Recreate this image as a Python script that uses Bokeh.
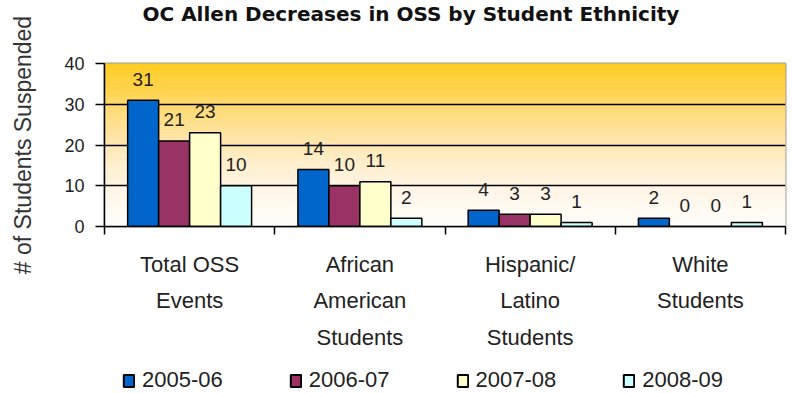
from bokeh.plotting import figure
from bokeh.layouts import column
from bokeh.models import Range1d, FixedTicker, Legend, LegendItem, ColumnDataSource, Title
from bokeh.core.properties import value
from bokeh.embed import file_html
from bokeh.resources import INLINE

# ---- data ----
categories = ["Total OSS\nEvents", "African\nAmerican\nStudents",
              "Hispanic/\nLatino\nStudents", "White\nStudents"]
years = ["2005-06", "2006-07", "2007-08", "2008-09"]
v_2005_06 = [31, 14, 4, 2]
v_2006_07 = [21, 10, 3, 0]
v_2007_08 = [23, 11, 3, 0]
v_2008_09 = [10, 2, 1, 1]
series = [v_2005_06, v_2006_07, v_2007_08, v_2008_09]
y_ticks = [0, 10, 20, 30, 40]
title_text = "OC Allen Decreases in OSS by Student Ethnicity"
y_label = "# of Students Suspended"

# ---- style ----
colors = ["#0066CC", "#993366", "#FFFFCC", "#CCFFFF"]
FONT = "Liberation Sans"
WFONT = "DejaVu Sans"
bar_w = 0.182
offsets = [-1.5 * bar_w, -0.5 * bar_w, 0.5 * bar_w, 1.5 * bar_w]
W = 792
LEG_H = 32
MAIN_H = 393 - LEG_H

n = len(categories)
p = figure(width=W, height=MAIN_H, output_backend="svg", toolbar_location=None,
           x_range=Range1d(0, n), y_range=Range1d(y_ticks[0], y_ticks[-1]),
           min_border_left=104, min_border_right=7, min_border_top=63,
           min_border_bottom=MAIN_H - 226)
p.background_fill_color = "white"
p.border_fill_color = "white"
p.outline_line_color = "#A0A0A0"
p.outline_line_width = 2

# spacer between title and frame (nearest the frame)
p.add_layout(Title(text=" ", text_font_size="10px", standoff=23), "above")

# title (outermost)
p.title.text = title_text
p.title.align = "left"
p.title.vertical_align = "top"
p.title.text_font = WFONT
p.title.text_font_size = "20px"
p.title.text_font_style = "bold"
p.title.text_color = "#111111"
p.title.standoff = 0
p.title.offset = 38

# gradient background (style only)
stops = [(0.0, (255, 254, 252)), (0.25, (255, 245, 228)), (0.5, (255, 232, 180)),
         (0.75, (255, 216, 105)), (1.0, (255, 204, 26))]
def grad(t):
    for (t0, c0), (t1, c1) in zip(stops[:-1], stops[1:]):
        if t <= t1:
            f = (t - t0) / (t1 - t0)
            return "#%02x%02x%02x" % tuple(int(round(a + (b - a) * f)) for a, b in zip(c0, c1))
    return "#%02x%02x%02x" % stops[-1][1]
N = 80
ymin, ymax = y_ticks[0], y_ticks[-1]
bots = [ymin + (ymax - ymin) * i / N for i in range(N)]
tops = [ymin + (ymax - ymin) * (i + 1) / N for i in range(N)]
gcols = [grad((i + 0.5) / N) for i in range(N)]
g = p.quad(left=0, right=n, bottom=bots, top=tops, fill_color=gcols, line_color=gcols, line_width=0.5)
g.level = "image"

# bars
for k, vals in enumerate(series):
    xs = [i + 0.5 + offsets[k] for i in range(n)]
    src = ColumnDataSource(dict(x=xs, top=vals, lab=[str(v) for v in vals]))
    p.vbar(x="x", top="top", bottom=0, width=bar_w, source=src,
           fill_color=colors[k], line_color="black", line_width=1.5)
    p.text(x="x", y="top", text="lab", source=src, y_offset=-21,
           text_align="center", text_baseline="middle",
           text_font=value(FONT), text_font_size="19px", text_color="#222222")

# grid
p.xgrid.visible = False
p.ygrid.ticker = FixedTicker(ticks=y_ticks[1:-1])
p.ygrid.grid_line_color = "black"
p.ygrid.grid_line_width = 1.5

# y axis
p.yaxis.ticker = FixedTicker(ticks=y_ticks)
p.yaxis.axis_line_color = "black"
p.yaxis.axis_line_width = 1.5
p.yaxis.major_tick_in = 0
p.yaxis.major_tick_out = 9
p.yaxis.major_tick_line_width = 1.5
p.yaxis.minor_tick_line_color = None
p.yaxis.major_label_standoff = 11
p.yaxis.major_label_text_font = FONT
p.yaxis.major_label_text_font_size = "18px"
p.yaxis.major_label_text_color = "#222222"
p.yaxis.axis_label = y_label
p.yaxis.axis_label_text_font = FONT
p.yaxis.axis_label_text_font_size = "23px"
p.yaxis.axis_label_text_font_style = "normal"
p.yaxis.axis_label_text_color = "#333333"
p.yaxis.axis_label_standoff = 25

# x axis
p.xaxis.ticker = FixedTicker(ticks=[i + 0.5 for i in range(n)], minor_ticks=list(range(n + 1)))
p.xaxis.major_label_overrides = {i + 0.5: c for i, c in enumerate(categories)}
p.xaxis.axis_line_color = "black"
p.xaxis.axis_line_width = 1.5
p.xaxis.major_tick_line_color = None
p.xaxis.major_tick_in = 0
p.xaxis.major_tick_out = 0
p.xaxis.minor_tick_in = 0
p.xaxis.minor_tick_out = 8
p.xaxis.minor_tick_line_color = "black"
p.xaxis.minor_tick_line_width = 1.5
p.xaxis.major_label_standoff = 17
p.xaxis.major_label_text_font = FONT
p.xaxis.major_label_text_font_size = "22px"
p.xaxis.major_label_text_color = "#222222"
p.xaxis.major_label_text_line_height = 1.47

# legend strip (separate figure below the chart; its frame lines up with the chart's)
lf = figure(width=W, height=LEG_H, output_backend="svg", toolbar_location=None,
            x_range=Range1d(0, 1), y_range=Range1d(0, 1),
            x_axis_type=None, y_axis_type=None,
            min_border_left=0, min_border_right=0, min_border_top=0, min_border_bottom=0)
lf.grid.visible = False
lf.outline_line_color = None
lf.background_fill_color = "white"
lf.border_fill_color = "white"
items = []
for k in range(4):
    r = lf.vbar(x=[0.5], top=[1], width=0.1, fill_color=colors[k], line_color="black", line_width=2)
    r.visible = False  # only a swatch source for the legend
    items.append(LegendItem(label=years[k], renderers=[r]))
legend = Legend(items=items, orientation="horizontal", location=(18, 0),
                glyph_width=13, glyph_height=15, label_standoff=7, spacing=66,
                label_height=20, padding=0, margin=0, border_line_color=None,
                background_fill_alpha=0,
                label_text_font=FONT, label_text_font_size="22px", label_text_color="#222222")
lf.add_layout(legend)

layout = column(p, lf, spacing=0)
open("out.html", "w").write(file_html(layout, INLINE))
